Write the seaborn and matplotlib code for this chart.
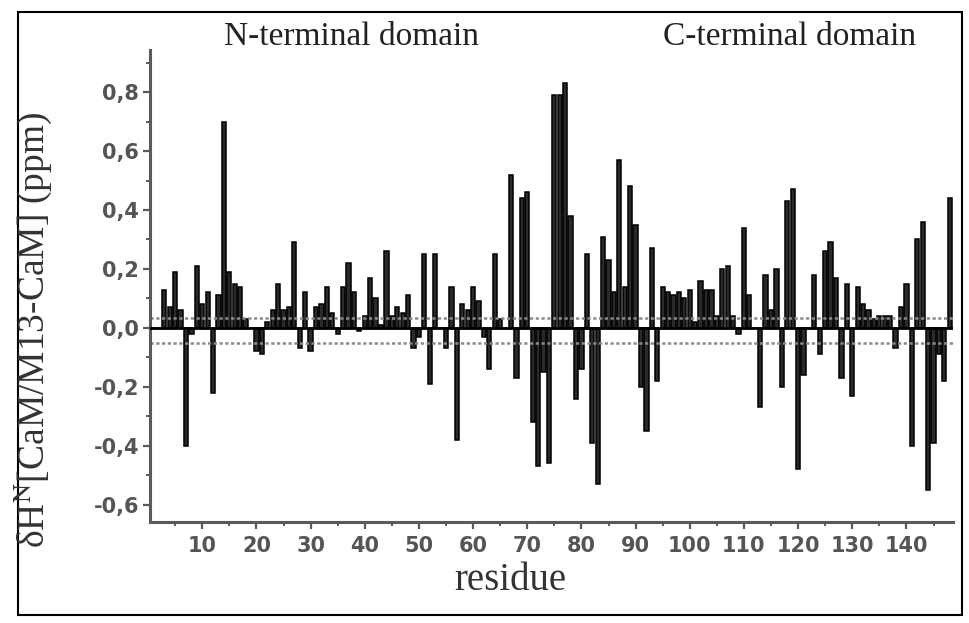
import numpy as np
import pandas as pd
import matplotlib
matplotlib.use("Agg")
import matplotlib.pyplot as plt
from matplotlib.ticker import MultipleLocator, FuncFormatter
from matplotlib.patches import Rectangle
import seaborn as sns

# Chemical shift differences per residue (ppm)
residues = list(range(1, 149))
shift_ppm = [
    0.00, 0.00, 0.13, 0.07, 0.19, 0.06, -0.40, -0.02, 0.21, 0.08,
    0.12, -0.22, 0.11, 0.70, 0.19, 0.15, 0.14, 0.03, 0.00, -0.08,
    -0.09, 0.02, 0.06, 0.15, 0.06, 0.07, 0.29, -0.07, 0.12, -0.08,
    0.07, 0.08, 0.14, 0.05, -0.02, 0.14, 0.22, 0.12, -0.01, 0.04,
    0.17, 0.10, 0.01, 0.26, 0.04, 0.07, 0.05, 0.11, -0.07, -0.03,
    0.25, -0.19, 0.25, 0.00, -0.07, 0.14, -0.38, 0.08, 0.06, 0.14,
    0.09, -0.03, -0.14, 0.25, 0.03, 0.00, 0.52, -0.17, 0.44, 0.46,
    -0.32, -0.47, -0.15, -0.46, 0.79, 0.79, 0.83, 0.38, -0.24, -0.14,
    0.25, -0.39, -0.53, 0.31, 0.23, 0.12, 0.57, 0.14, 0.48, 0.35,
    -0.20, -0.35, 0.27, -0.18, 0.14, 0.12, 0.11, 0.12, 0.10, 0.13,
    0.02, 0.16, 0.13, 0.13, 0.04, 0.20, 0.21, 0.04, -0.02, 0.34,
    0.11, 0.00, -0.27, 0.18, 0.06, 0.20, -0.20, 0.43, 0.47, -0.48,
    -0.16, 0.00, 0.18, -0.09, 0.26, 0.29, 0.17, -0.17, 0.15, -0.23,
    0.14, 0.08, 0.06, 0.03, 0.04, 0.04, 0.04, -0.07, 0.07, 0.15,
    -0.40, 0.30, 0.36, -0.55, -0.39, -0.09, -0.18, 0.44,
]

# Significance thresholds (ppm)
upper_threshold = 0.035
lower_threshold = -0.05

domain_labels = ["N-terminal domain", "C-terminal domain"]
y_ticks = [-0.6, -0.4, -0.2, 0.0, 0.2, 0.4, 0.6, 0.8]
x_ticks = [10, 20, 30, 40, 50, 60, 70, 80, 90, 100, 110, 120, 130, 140]

df = pd.DataFrame({"residue": residues, "shift": shift_ppm})

sns.set_theme(style="white")
plt.rcParams["font.family"] = ["DejaVu Sans"]
plt.rcParams["mathtext.fontset"] = "stix"

fig = plt.figure(figsize=(9.70, 6.23), dpi=100)
ax = fig.add_axes([150 / 970, 1 - 522 / 623, (953 - 150) / 970, (522 - 50) / 623])

sns.barplot(data=df, x="residue", y="shift", native_scale=True,
            color="#2a2a2a", saturation=1, width=0.78,
            edgecolor="black", linewidth=1.1, ax=ax)

ax.axhline(0, color="black", lw=2.0, zorder=5)
ax.axhline(upper_threshold, color="#8a8a8a", lw=1.8, ls=(0, (1.3, 1.0)), zorder=1)
ax.axhline(lower_threshold, color="#8a8a8a", lw=1.8, ls=(0, (1.3, 1.0)), zorder=1)

ax.set_xlim(0.35, 148.6)
ax.set_ylim(-0.659, 0.943)

ax.set_yticks(y_ticks)
ax.yaxis.set_minor_locator(MultipleLocator(0.1))
ax.set_xticks(x_ticks)
ax.xaxis.set_minor_locator(MultipleLocator(5))
ax.yaxis.set_major_formatter(FuncFormatter(lambda v, p: f"{v:.1f}".replace(".", ",")))
ax.xaxis.set_major_formatter(FuncFormatter(lambda v, p: f"{int(v)}"))

spine_col = "#5a5a5a"
for side in ["top", "right"]:
    ax.spines[side].set_visible(False)
for side in ["left", "bottom"]:
    ax.spines[side].set_color(spine_col)
    ax.spines[side].set_linewidth(2.2)

ax.tick_params(which="major", direction="out", length=5, width=1.6,
               color=spine_col, labelcolor="#555555", labelsize=15, pad=3,
               left=True, bottom=True)
ax.tick_params(axis="x", which="major", pad=5)
ax.tick_params(which="minor", direction="out", length=3, width=1.4,
               color=spine_col, left=True, bottom=True)
for lab in ax.get_xticklabels() + ax.get_yticklabels():
    lab.set_fontweight("bold")

serif = ["Liberation Serif", "DejaVu Serif"]
ax.set_xlabel("")
ax.set_ylabel("")
fig.text(510 / 970, 1 - 580 / 623, "residue", ha="center", va="center",
         fontsize=28, family=serif, color="#333333")
fig.text(33 / 970, 1 - 330 / 623, "δH$^{\\mathrm{N}}$[CaM/M13-CaM] (ppm)",
         ha="center", va="center", rotation=90, fontsize=27,
         family=serif, color="#333333")

fig.text(352 / 970, 1 - 37 / 623, domain_labels[0], ha="center", va="center",
         fontsize=24, family=serif, color="#222222")
fig.text(790 / 970, 1 - 37 / 623, domain_labels[1], ha="center", va="center",
         fontsize=24, family=serif, color="#222222")

fig.patches.append(Rectangle((18 / 970, 1 - 615 / 623), (962 - 18) / 970,
                             (615 - 12) / 623, transform=fig.transFigure,
                             fill=False, edgecolor="black", lw=1.5))

fig.savefig("out.png", dpi=100)
